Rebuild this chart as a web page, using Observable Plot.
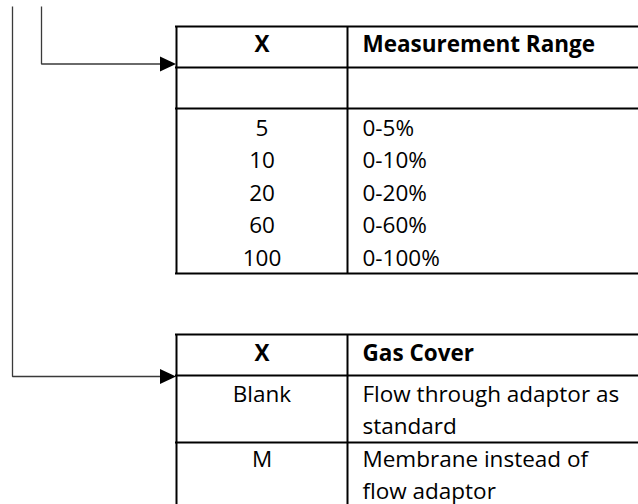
<!DOCTYPE html>
<html>
<head>
<meta charset="utf-8">
<script src="https://cdn.jsdelivr.net/npm/d3@7"></script>
<script src="https://cdn.jsdelivr.net/npm/@observablehq/plot@0.6"></script>
<style>
  html, body { margin: 0; padding: 0; background: #fff; }
  #chart svg { display: block; }
</style>
</head>
<body>
<div id="chart"></div>
<script>
// ---- data ----
const rangeHeader = ["X", "Measurement Range"];
const rangeCodes = ["5", "10", "20", "60", "100"];
const rangeLabels = ["0-5%", "0-10%", "0-20%", "0-60%", "0-100%"];

const coverHeader = ["X", "Gas Cover"];
const coverCodes = ["Blank", "M"];
const coverLabels = ["Flow through adaptor as\nstandard", "Membrane instead of\nflow adaptor"];

// ---- layout ----
const W = 638, H = 504;
const FONT = "'Open Sans', Lato, sans-serif";
const FS = 22.5;
const colL = 176, colMid = 347, colR = 642;
const col1C = (colL + colMid) / 2, col2X = 362;
const lineStep = 32.6;
const baseShift = 0.32 * FS; // baseline offset for lineAnchor middle

// table 1 geometry
const t1 = {top: 26, headBottom: 67, emptyBottom: 108, bottom: 273, headBase: 51.3, firstBase: 135, step: 32.5};
// table 2 geometry
const t2 = {top: 334, headBottom: 375, rowBottoms: [442, 508], headBase: 360, firstBase: 401};

// horizontal rules
const hRules = [
  {y: t1.top}, {y: t1.headBottom}, {y: t1.emptyBottom}, {y: t1.bottom},
  {y: t2.top}, {y: t2.headBottom}, ...t2.rowBottoms.map(y => ({y}))
];
const vRules = [
  {x: colL, y1: t1.top, y2: t1.bottom}, {x: colMid, y1: t1.top, y2: t1.bottom},
  {x: colL, y1: t2.top, y2: t2.rowBottoms[1]}, {x: colMid, y1: t2.top, y2: t2.rowBottoms[1]}
];

// text rows
const texts = [];
texts.push({x: col1C, y: t1.headBase - baseShift, t: rangeHeader[0], a: "middle", b: true});
texts.push({x: col2X, y: t1.headBase - baseShift, t: rangeHeader[1], a: "start", b: true});
rangeCodes.forEach((c, i) => {
  const y = t1.firstBase + i * t1.step - baseShift;
  texts.push({x: col1C, y, t: c, a: "middle", b: false});
  texts.push({x: col2X, y, t: rangeLabels[i], a: "start", b: false});
});
texts.push({x: col1C, y: t2.headBase - baseShift, t: coverHeader[0], a: "middle", b: true});
texts.push({x: col2X, y: t2.headBase - baseShift, t: coverHeader[1], a: "start", b: true});
let rowTop = t2.firstBase;
coverCodes.forEach((c, i) => {
  texts.push({x: col1C, y: rowTop - baseShift, t: c, a: "middle", b: false});
  coverLabels[i].split("\n").forEach((line, j) => {
    texts.push({x: col2X, y: rowTop + j * lineStep - baseShift, t: line, a: "start", b: false});
  });
  rowTop += 2 * lineStep;
});

// connectors
const connectors = [
  {id: 1, x: 41, y: 6}, {id: 1, x: 41, y: 63.5}, {id: 1, x: 168, y: 63.5},
  {id: 2, x: 12, y: 6}, {id: 2, x: 12, y: 376}, {id: 2, x: 168, y: 376}
];
const arrowTips = [{x: 175.5, y: 63.5}, {x: 175.5, y: 376}];

const arrowHead = {
  draw(context) {
    // right-pointing filled triangle with its tip at the origin
    context.moveTo(0, 0);
    context.lineTo(-16, -7.5);
    context.lineTo(-16, 7.5);
    context.closePath();
  }
};

const textMark = (anchor, bold) => Plot.text(texts.filter(d => d.a === anchor && d.b === bold), {
  x: "x", y: "y", text: "t", textAnchor: anchor, lineAnchor: "middle",
  fontSize: FS, fill: "#000", fontWeight: bold ? "bold" : "normal"
});

const chart = Plot.plot({
  width: W,
  height: H,
  margin: 0,
  style: {fontFamily: FONT, background: "#fff"},
  x: {type: "linear", domain: [0, W], range: [0, W], axis: null},
  y: {type: "linear", domain: [0, H], range: [0, H], axis: null},
  marks: [
    Plot.line(connectors, {x: "x", y: "y", z: "id", stroke: "#3a3a3a", strokeWidth: 1.3, strokeLinejoin: "miter", strokeLinecap: "butt"}),
    Plot.dot(arrowTips, {x: "x", y: "y", symbol: arrowHead, fill: "#000", stroke: "none", r: 5}),
    Plot.ruleY(hRules, {y: "y", x1: colL - 1, x2: colR, stroke: "#000", strokeWidth: 2}),
    Plot.ruleX(vRules, {x: "x", y1: "y1", y2: "y2", stroke: "#000", strokeWidth: 2}),
    textMark("middle", false),
    textMark("middle", true),
    textMark("start", false),
    textMark("start", true)
  ]
});
document.getElementById("chart").appendChild(chart);
</script>
</body>
</html>
